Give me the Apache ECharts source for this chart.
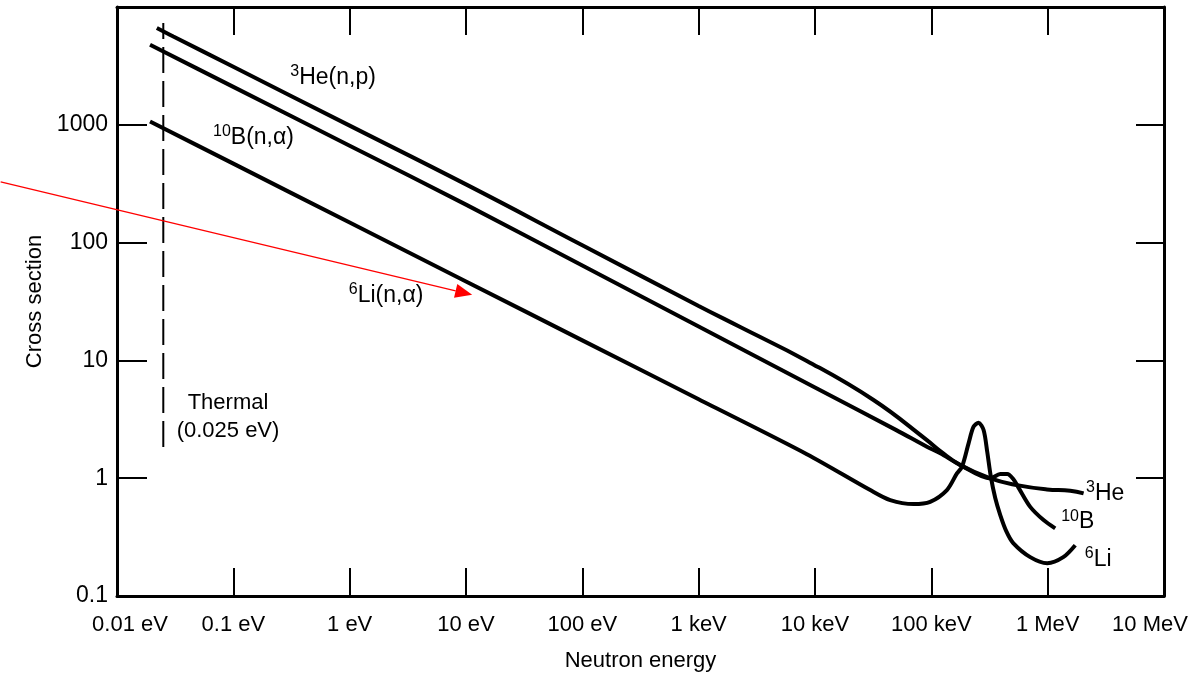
<!DOCTYPE html>
<html>
<head>
<meta charset="utf-8">
<script src="https://cdn.jsdelivr.net/npm/echarts@6/dist/echarts.min.js"></script>
<style>
  html, body { margin: 0; padding: 0; background: #fff; }
  #chart { width: 1196px; height: 673px; }
</style>
</head>
<body>
<div id="chart"></div>
<script>
// ---- Data ----
// Neutron energy in eV, cross section in barns
const heEnergy = [0.022, 0.0305, 0.1, 1, 10, 100, 1000, 2276, 8511, 31850, 91600, 119400, 177500, 321600, 544600, 986000, 1564000, 2037000];
const heSigma  = [6630, 5624, 3105, 984, 312, 95, 29, 19.2, 9.9, 4.61, 2.107, 1.70, 1.292, 0.996, 0.874, 0.803, 0.782, 0.743];

const bEnergy = [0.01923, 0.1, 1, 10, 100, 1000, 10000, 50000, 91600, 119400, 177500, 321600, 390800, 449800, 506000, 558000, 708000, 922000, 1161000];
const bSigma  = [4786, 2099, 665, 210, 64, 19.4, 5.89, 2.56, 1.849, 1.625, 1.292, 0.996, 1.084, 1.084, 0.983, 0.840, 0.571, 0.441, 0.375];

const liEnergy = [0.01923, 0.1, 1, 10, 100, 1000, 8511, 29850, 44350, 70300, 97700, 136100, 166000, 183400, 209000, 230700, 254700, 281300, 302500, 324100, 354300, 391300, 440600, 505800, 708000, 992000, 1362000, 1726000];
const liSigma  = [1067, 468, 148, 46.8, 14.8, 4.68, 1.60, 0.793, 0.652, 0.603, 0.630, 0.793, 1.098, 1.25, 1.977, 2.734, 2.956, 2.563, 1.667, 1.042, 0.678, 0.486, 0.355, 0.281, 0.2137, 0.190, 0.2137, 0.270];

// Thermal marker (0.025 eV)
const thermalEnergy = [0.025, 0.025];
const thermalSigma  = [1.84, 7310];

// Tick labels
const xTickLabels = ['0.01 eV', '0.1 eV', '1 eV', '10 eV', '100 eV', '1 keV', '10 keV', '100 keV', '1 MeV', '10 MeV'];
const yTickLabels = ['0.1', '1', '10', '100', '1000', ''];

// Curve annotations (anchor in data coordinates)
const labelSup    = ['3', '10', '6', '3', '10', '6'];
const labelMain   = ['He(n,p)', 'B(n,\u03b1)', 'Li(n,\u03b1)', 'He', 'B', 'Li'];
const labelEnergy = [0.72, 0.149, 2.056, 3126000, 1815000, 2720000];
const labelSigma  = [2712, 838, 38.1, 0.793, 0.458, 0.222];

const thermalText    = ['Thermal', '(0.025 eV)'];
const thermalLabelAt = [0.090, 3.30];

// Red annotation arrow (from, to) in data coordinates
const arrowFrom = [0.001, 328];
const arrowTo   = [11.3, 36.0];

// ---- Chart ----
const FONT = '"Liberation Sans", Arial, Helvetica, sans-serif';
const zip = (xs, ys) => xs.map((x, i) => [x, ys[i]]);

const curveStyle = { color: '#000', width: 4 };

const chart = echarts.init(document.getElementById('chart'), null, { renderer: 'canvas' });

const option = {
  animation: false,
  backgroundColor: '#ffffff',
  grid: { left: 117, right: 32, top: 7, bottom: 77, containLabel: false, outerBoundsMode: 'none' },
  xAxis: [
    {
      type: 'log', logBase: 10, min: 0.01, max: 1e7, splitNumber: 10,
      position: 'bottom',
      name: 'Neutron energy', nameLocation: 'middle', nameGap: 54,
      nameTextStyle: { fontFamily: FONT, fontSize: 22, color: '#000' },
      axisLine: { show: true, lineStyle: { color: '#000', width: 3 } },
      axisTick: { show: true, inside: true, length: 28, lineStyle: { color: '#000', width: 2 } },
      minorTick: { show: false },
      splitLine: { show: false },
      axisLabel: {
        show: true, margin: 18, color: '#000', fontFamily: FONT, fontSize: 22,
        showMinLabel: true, showMaxLabel: true,
        formatter: (v, i) => {
          const t = xTickLabels[i] || '';
          if (i === 0) return '{first|' + t + '}';
          if (i === xTickLabels.length - 1) return '{last|' + t + '}';
          return t;
        },
        rich: {
          first: { fontFamily: FONT, fontSize: 22, color: '#000', padding: [0, 0, 0, 26] },
          last: { fontFamily: FONT, fontSize: 22, color: '#000', padding: [0, 28, 0, 0] }
        }
      }
    },
    {
      type: 'log', logBase: 10, min: 0.01, max: 1e7, splitNumber: 10,
      position: 'top',
      axisLine: { show: true, lineStyle: { color: '#000', width: 3 } },
      axisTick: { show: true, inside: true, length: 28, lineStyle: { color: '#000', width: 2 } },
      axisLabel: { show: false },
      splitLine: { show: false }
    }
  ],
  yAxis: [
    {
      type: 'log', logBase: 10, min: 0.1, max: 10000, splitNumber: 5,
      position: 'left',
      name: 'Cross section', nameLocation: 'middle', nameGap: 70,
      nameTextStyle: { fontFamily: FONT, fontSize: 22, color: '#000' },
      axisLine: { show: true, lineStyle: { color: '#000', width: 3 } },
      axisTick: { show: true, inside: true, length: 30, lineStyle: { color: '#000', width: 2 } },
      splitLine: { show: false },
      axisLabel: {
        show: true, margin: 9, color: '#000', fontFamily: FONT, fontSize: 23,
        formatter: (v, i) => yTickLabels[i] || ''
      }
    },
    {
      type: 'log', logBase: 10, min: 0.1, max: 10000, splitNumber: 5,
      position: 'right',
      axisLine: { show: true, lineStyle: { color: '#000', width: 3 } },
      axisTick: { show: true, inside: true, length: 28, lineStyle: { color: '#000', width: 2 } },
      axisLabel: { show: false },
      splitLine: { show: false }
    }
  ],
  series: [
    {
      name: '3He(n,p)', type: 'line', xAxisIndex: 0, yAxisIndex: 0,
      data: zip(heEnergy, heSigma), symbol: 'none', smooth: 0.45,
      lineStyle: curveStyle, z: 3
    },
    {
      name: '10B(n,alpha)', type: 'line', xAxisIndex: 0, yAxisIndex: 0,
      data: zip(bEnergy, bSigma), symbol: 'none', smooth: 0.3,
      lineStyle: curveStyle, z: 3
    },
    {
      name: '6Li(n,alpha)', type: 'line', xAxisIndex: 0, yAxisIndex: 0,
      data: zip(liEnergy, liSigma), symbol: 'none', smooth: 0.3,
      lineStyle: curveStyle, z: 3
    },
    {
      name: 'Thermal', type: 'line', xAxisIndex: 0, yAxisIndex: 0,
      data: zip(thermalEnergy, thermalSigma), symbol: 'none',
      lineStyle: { color: '#000', width: 2, type: [26, 8] }, z: 2
    },
    {
      name: 'labels', type: 'scatter', xAxisIndex: 0, yAxisIndex: 0,
      symbolSize: 1, itemStyle: { color: 'rgba(255,255,255,0)', opacity: 1 },
      data: labelEnergy.map((e, i) => ({
        value: [e, labelSigma[i]],
        name: '{s|' + labelSup[i] + '}{m|' + labelMain[i] + '}'
      })),
      label: {
        show: true, position: 'inside', offset: [0, 4], formatter: p => p.name,
        color: '#000', textBorderWidth: 0, opacity: 1,
        rich: {
          s: { fontFamily: FONT, fontSize: 16, color: '#000', lineHeight: 15, verticalAlign: 'top', textBorderWidth: 0 },
          m: { fontFamily: FONT, fontSize: 23, color: '#000', lineHeight: 28, textBorderWidth: 0 }
        }
      },
      silent: true, z: 4
    },
    {
      name: 'thermalLabel', type: 'scatter', xAxisIndex: 0, yAxisIndex: 0,
      symbolSize: 1, itemStyle: { color: 'rgba(255,255,255,0)', opacity: 1 },
      data: [{ value: thermalLabelAt, name: thermalText.map(t => '{t|' + t + '}').join('\n') }],
      label: {
        show: true, position: 'inside', formatter: p => p.name,
        color: '#000', textBorderWidth: 0, align: 'center', opacity: 1,
        rich: {
          t: { fontFamily: FONT, fontSize: 22, color: '#000', lineHeight: 28, textBorderWidth: 0, align: 'center' }
        }
      },
      silent: true, z: 4
    },
    {
      name: 'arrow', type: 'custom', xAxisIndex: 0, yAxisIndex: 0,
      clip: false, silent: true, z: 10,
      encode: { x: [0, 2], y: [1, 3] },
      data: [[arrowFrom[0], arrowFrom[1], arrowTo[0], arrowTo[1]]],
      renderItem: (params, api) => {
        const p0 = api.coord([api.value(0), api.value(1)]);
        const p1 = api.coord([api.value(2), api.value(3)]);
        const dx = p1[0] - p0[0], dy = p1[1] - p0[1];
        const len = Math.hypot(dx, dy), ux = dx / len, uy = dy / len;
        const hl = 17, hw = 7;
        const bx = p1[0] - ux * hl, by = p1[1] - uy * hl;
        return {
          type: 'group',
          children: [
            { type: 'line', shape: { x1: p0[0], y1: p0[1], x2: bx, y2: by },
              style: { stroke: '#ff0000', lineWidth: 1.3 } },
            { type: 'polygon',
              shape: { points: [[p1[0], p1[1]], [bx - uy * hw, by + ux * hw], [bx + uy * hw, by - ux * hw]] },
              style: { fill: '#ff0000' } }
          ]
        };
      }
    }
  ]
};

chart.setOption(option);
</script>
</body>
</html>
